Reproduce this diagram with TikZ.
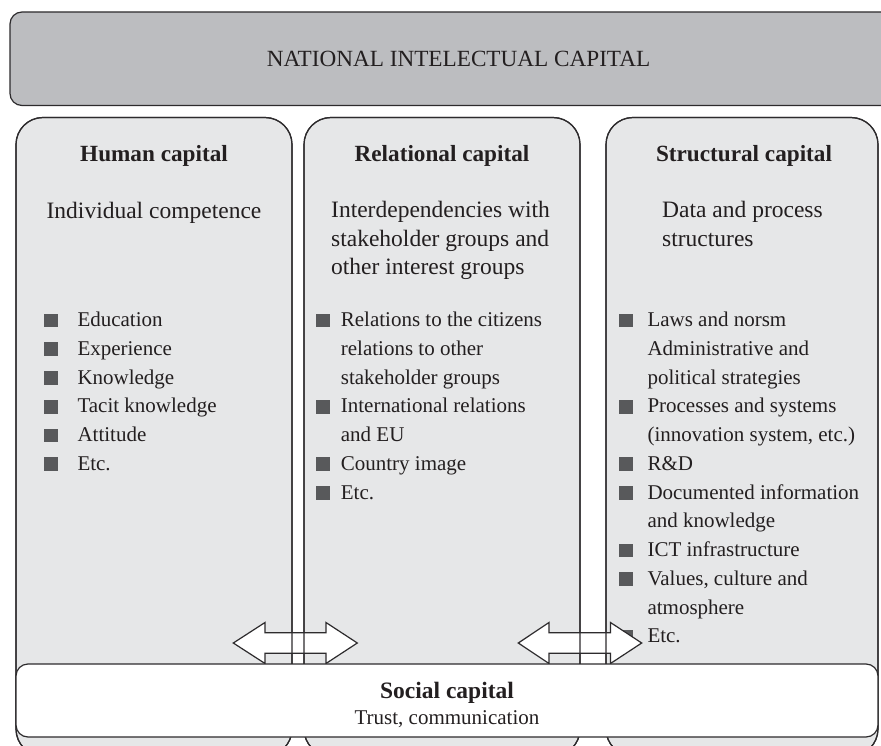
\documentclass[tikz,border=0pt]{standalone}
\usepackage{fontspec}
\setmainfont{Liberation Serif}
\definecolor{linec}{RGB}{45,43,45}
\definecolor{topfill}{RGB}{188,189,192}
\definecolor{colfill}{RGB}{230,231,232}
\definecolor{bulletc}{RGB}{88,89,91}
\definecolor{textc}{RGB}{35,31,32}
\begin{document}
\begin{tikzpicture}[x=1pt,y=-1pt,
  boxline/.style={draw=linec, line width=1.2pt},
  colbox/.style={boxline, fill=colfill, rectangle, rounded corners=27pt, inner sep=0pt, outer sep=0pt},
  topbox/.style={boxline, fill=topfill, rectangle, rounded corners=12pt, inner sep=0pt, outer sep=0pt},
  socbox/.style={boxline, fill=white, rectangle, rounded corners=12pt, inner sep=0pt, outer sep=0pt},
  sq/.style={fill=bulletc, rectangle, minimum size=13.7pt, inner sep=0pt, outer sep=0pt},
  item/.style={anchor=base west, inner sep=0pt, text=textc, font=\fontsize{21}{28.75}\selectfont},
  subt/.style={anchor=base west, inner sep=0pt, text=textc, font=\fontsize{23.5}{28.5}\selectfont},
  head/.style={anchor=base, inner sep=0pt, text=textc, font=\fontsize{23.2}{28}\selectfont\bfseries},
  dblarrow/.style={boxline, fill=white, line join=miter}
]
\useasboundingbox (0,0) rectangle (881,746);
\begin{scope}
\clip (0,0) rectangle (881,746);

% columns
\node[colbox, minimum width=276pt, minimum height=638.5pt] (human) at (154,436.75) {};
\node[colbox, minimum width=276pt, minimum height=638.5pt] (relational) at (442,436.75) {};
\node[colbox, minimum width=272pt, minimum height=638.5pt] (structural) at (742,436.75) {};

% top box
\node[topbox, minimum width=890pt, minimum height=93.5pt] (top) at (455,58.75) {};
\node[anchor=base, inner sep=0pt, text=textc, font=\fontsize{23.2}{28}\selectfont] (title) at (458.5,67) {NATIONAL INTELECTUAL CAPITAL};

% headings
\node[head] (hh) at (154,161.7) {Human capital};
\node[head] (rh) at (442,161.7) {Relational capital};
\node[head] (sh) at (744,161.7) {Structural capital};

% subtitles
\node[subt, anchor=base] (hs1) at (154,219) {Individual competence};
\node[subt] (rs1) at (331,218) {Interdependencies with};
\node[subt] (rs2) at (331,246.5) {stakeholder groups and};
\node[subt] (rs3) at (331,275) {other interest groups};
\node[subt] (ss1) at (662,218) {Data and process};
\node[subt] (ss2) at (662,247) {structures};

% human bullets
\foreach \y/\t [count=\i] in {326.7/Education, 355.45/Experience, 384.2/Knowledge, 412.95/Tacit knowledge, 441.7/Attitude, 470.45/Etc.}{
  \node[sq] (hb\i) at (51,\y-6.3) {};
  \node[item] (ht\i) at (77.3,\y) {\t};
}

% relational bullets
\foreach \y in {326.7, 412.95, 470.45, 499.2}{
  \node[sq] (rb\y) at (323,\y-6.3) {};
}
\node[item] (rt1) at (340.7,326.7) {Relations to the citizens};
\node[item] (rt2) at (340.7,355.45) {relations to other};
\node[item] (rt3) at (340.7,384.2) {stakeholder groups};
\node[item] (rt4) at (340.7,412.95) {International relations};
\node[item] (rt5) at (340.7,441.7) {and EU};
\node[item] (rt6) at (340.7,470.45) {Country image};
\node[item] (rt7) at (340.7,499.2) {Etc.};

% structural bullets
\foreach \y in {326.7, 412.95, 470.45, 499.2, 556.7, 585.45, 642.95}{
  \node[sq] (sb\y) at (626,\y-6.3) {};
}
\node[item] (st1) at (647.3,326.7) {Laws and norsm};
\node[item] (st2) at (647.3,355.45) {Administrative and};
\node[item] (st3) at (647.3,384.2) {political strategies};
\node[item] (st4) at (647.3,412.95) {Processes and systems};
\node[item] (st5) at (647.3,441.7) {(innovation system, etc.)};
\node[item] (st6) at (647.3,470.45) {R\&D};
\node[item] (st7) at (647.3,499.2) {Documented information};
\node[item] (st8) at (647.3,527.95) {and knowledge};
\node[item] (st9) at (647.3,556.7) {ICT infrastructure};
\node[item] (st10) at (647.3,585.45) {Values, culture and};
\node[item] (st11) at (647.3,614.2) {atmosphere};
\node[item] (st12) at (647.3,642.95) {Etc.};

% double arrows
\draw[dblarrow] (233.3,643) -- (265,622.5) -- (265,632.7) -- (326,632.7) -- (326,622.5)
  -- (357.3,643) -- (326,663.5) -- (326,653.3) -- (265,653.3) -- (265,663.5) -- cycle;
\draw[dblarrow] (518.3,643) -- (549,622.5) -- (549,632.7) -- (610.5,632.7) -- (610.5,622.5)
  -- (641.7,643) -- (610.5,663.5) -- (610.5,653.3) -- (549,653.3) -- (549,663.5) -- cycle;

% column outlines over the arrows
\draw[boxline, rounded corners=27pt] (human.north west) rectangle (human.south east);
\draw[boxline, rounded corners=27pt] (relational.north west) rectangle (relational.south east);
\draw[boxline, rounded corners=27pt] (structural.north west) rectangle (structural.south east);

% social capital
\node[socbox, minimum width=862pt, minimum height=73pt] (social) at (447,700.5) {};
\node[anchor=base, inner sep=0pt, text=textc, font=\fontsize{23.5}{28}\selectfont\bfseries] (soct) at (447,698) {Social capital};
\node[anchor=base, inner sep=0pt, text=textc, font=\fontsize{21}{28}\selectfont] (socs) at (447,724) {Trust, communication};
\end{scope}
\end{tikzpicture}
\end{document}
